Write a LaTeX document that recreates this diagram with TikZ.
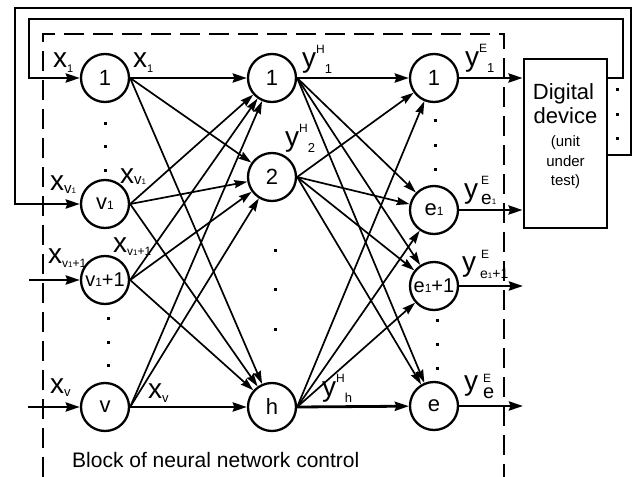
\documentclass[tikz,border=0pt]{standalone}
\usepackage{fontspec}
\setmainfont{Liberation Sans}
\usetikzlibrary{arrows.meta}

% font sizes used throughout
\newcommand\nodefont{\fontsize{22}{22}\selectfont}
\newcommand\nsubfont{\fontsize{12}{12}\selectfont}
\newcommand\labfont{\fontsize{28}{28}\selectfont}
\newcommand\supfont{\fontsize{12}{12}\selectfont}
\newcommand\subfont{\fontsize{13}{13}\selectfont}
\newcommand\tinyfont{\fontsize{8}{8}\selectfont}

% signal labels
\newcommand\ylab[2]{{\labfont y}\raisebox{13.5pt}{\supfont #1}\raisebox{-6pt}{\subfont #2}}
\newcommand\xlab[2]{{\labfont x}\raisebox{-#1}{#2}}

\begin{document}
\begin{tikzpicture}[x=1pt,y=-1pt,
  neuron/.style={circle, draw, line width=2.3pt, minimum size=48pt, inner sep=0pt, font=\nodefont},
  lab/.style={anchor=base west, inner sep=0pt},
  thinarrow/.style={line width=1.7pt, -{Stealth[length=13pt,width=8pt,inset=1.5pt]}},
  thickarrow/.style={line width=2.8pt, -{Stealth[length=14pt,width=9pt,inset=1.5pt]}},
  fbline/.style={line width=2.8pt},
  frame/.style={line width=2.8pt, dash pattern=on 20pt off 9pt},
  devbox/.style={draw, line width=2.8pt, minimum width=83pt, minimum height=169pt, inner sep=0pt},
  devtext/.style={anchor=base, inner sep=0pt}]

\useasboundingbox (0,0) rectangle (633,477);

% input layer
\node[neuron] (in1)  at (105,78)  {1};
\node[neuron] (inv1) at (105,204) {v{\nsubfont 1}};
\node[neuron] (inv2) at (105,280) {\fontsize{20}{20}\selectfont v{\nsubfont 1}+1};
\node[neuron] (inv)  at (105,407) {v};

% hidden layer
\node[neuron] (h1) at (272,78)  {1};
\node[neuron] (h2) at (272,177) {2};
\node[neuron] (hh) at (272,407) {h};

% output layer
\node[neuron] (o1)  at (434,78)  {1};
\node[neuron] (oe1) at (434,210) {e{\nsubfont 1}};
\node[neuron] (oe2) at (434,286) {\fontsize{20}{20}\selectfont e{\nsubfont 1}+1};
\node[neuron] (oe)  at (434,406) {e};

% device under test
\node[devbox] (dev) at (565.5,143.5) {};
\node[devtext] (dt1) at (563.5,99)  {\fontsize{22}{22}\selectfont Digital};
\node[devtext] (dt2) at (565.5,123) {\fontsize{22}{22}\selectfont device};
\node[devtext] (dt3) at (565.5,146) {\fontsize{15}{15}\selectfont (unit};
\node[devtext] (dt4) at (565.5,166) {\fontsize{15}{15}\selectfont under};
\node[devtext] (dt5) at (565.5,185) {\fontsize{15}{15}\selectfont test)};

% boundary of the control block
\draw[frame] (43,477) -- (43,34) -- (504,34) -- (504,477);
\node[anchor=base west, inner sep=0pt] (blk) at (72,467) {\fontsize{21}{21}\selectfont Block of neural network control};

% feedback from the device to the inputs
\draw[fbline, -{Stealth[length=14pt,width=9pt,inset=1.5pt]}]
  (dev.east |- in1) -- (623,78) |- (29,19) |- (in1.west);
\draw[fbline, -{Stealth[length=14pt,width=9pt,inset=1.5pt]}]
  (dev.east |- 0,155) -- (631,155) |- (15,8) |- (inv1.west);

% external inputs
\coordinate (s3) at (29,280);
\coordinate (s4) at (28,407);
\draw[thickarrow] (s3) -- (inv2.west);
\draw[thickarrow] (s4) -- (inv.west);

% input -> hidden
\draw[thickarrow] (in1.east) -- (h1);
\draw[thickarrow] (inv.east) -- (hh);
\foreach \a/\b in {in1/h2, in1/hh, inv1/h1, inv1/h2, inv1/hh,
                   inv2/h1, inv2/h2, inv2/hh, inv/h1, inv/h2}
  \draw[thinarrow] (\a.east) -- (\b);

% hidden -> output
\draw[thickarrow] (h1.east) -- (o1);
\draw[thickarrow] (hh.east) -- (oe);
\foreach \a/\b in {h1/oe1, h1/oe2, h1/oe, h2/o1, h2/oe1, h2/oe2, h2/oe,
                   hh/o1, hh/oe1, hh/oe2}
  \draw[thinarrow] (\a.east) -- (\b);

% outputs
\coordinate (t3) at (523,286);
\coordinate (t4) at (523,406);
\draw[thickarrow] (o1.east) -- (dev.west |- o1);
\draw[thickarrow] (oe1.east) -- (dev.west |- oe1);
\draw[thickarrow] (oe2.east) -- (t3);
\draw[thickarrow] (oe.east) -- (t4);

% ellipsis dots
\foreach \px/\py in {105/123, 105/146, 105/170, 108/318, 108/342, 108/365,
                     275/250, 275/289, 275/329, 435/120, 435/145, 435/169,
                     437/320, 437/344, 437/368, 617/89, 617/114, 617/138}
  \fill (\px-1.5,\py-1.5) rectangle ++(3,3);

% input signal labels
\node[lab] (lx1a) at (53,67)  {\xlab{5pt}{\fontsize{11}{11}\selectfont 1}};
\node[lab] (lx1b) at (133,67) {\xlab{5pt}{\fontsize{11}{11}\selectfont 1}};
\node[lab] (lxv1a) at (50,190)  {\xlab{3pt}{\fontsize{15}{15}\selectfont v\tinyfont 1}};
\node[lab] (lxv1b) at (120,183) {\xlab{1pt}{\fontsize{15}{15}\selectfont v\tinyfont 1}};
\node[lab] (lxv2a) at (48,263)  {\xlab{4pt}{\fontsize{12}{12}\selectfont v{\tinyfont 1}+1}};
\node[lab] (lxv2b) at (113,252) {\xlab{3pt}{\fontsize{12}{12}\selectfont v{\tinyfont 1}+1}};
\node[lab] (lxva) at (50,393)  {\xlab{3pt}{\fontsize{13}{13}\selectfont v}};
\node[lab] (lxvb) at (148,398) {\xlab{4pt}{\fontsize{13}{13}\selectfont v}};

% hidden signal labels
\node[lab] (yh1) at (302,67)  {\ylab{H}{1}};
\node[lab] (yh2) at (285,146) {\ylab{H}{2}};
\node[lab] (yhh) at (322,396) {\ylab{H}{h}};

% output signal labels: y with the E above and the index below
\node[lab] (ye1) at (465,66)  {\ylab{E}{1}};
\node[lab] (yee1) at (464,198) {\labfont y};
\node[lab] (yee1s) at (481,184) {\supfont E};
\node[lab] (yee1i) at (481,204) {\fontsize{19}{19}\selectfont e\tinyfont 1};
\node[lab] (yee2) at (462,271) {\labfont y};
\node[lab] (yee2s) at (481,258) {\supfont E};
\node[lab] (yee2i) at (480,278) {\fontsize{14}{14}\selectfont e{\tinyfont 1}+1};
\node[lab] (yee) at (464,390) {\labfont y};
\node[lab] (yees) at (483,382) {\supfont E};
\node[lab] (yeei) at (483,398) {\fontsize{20}{20}\selectfont e};

\end{tikzpicture}
\end{document}
